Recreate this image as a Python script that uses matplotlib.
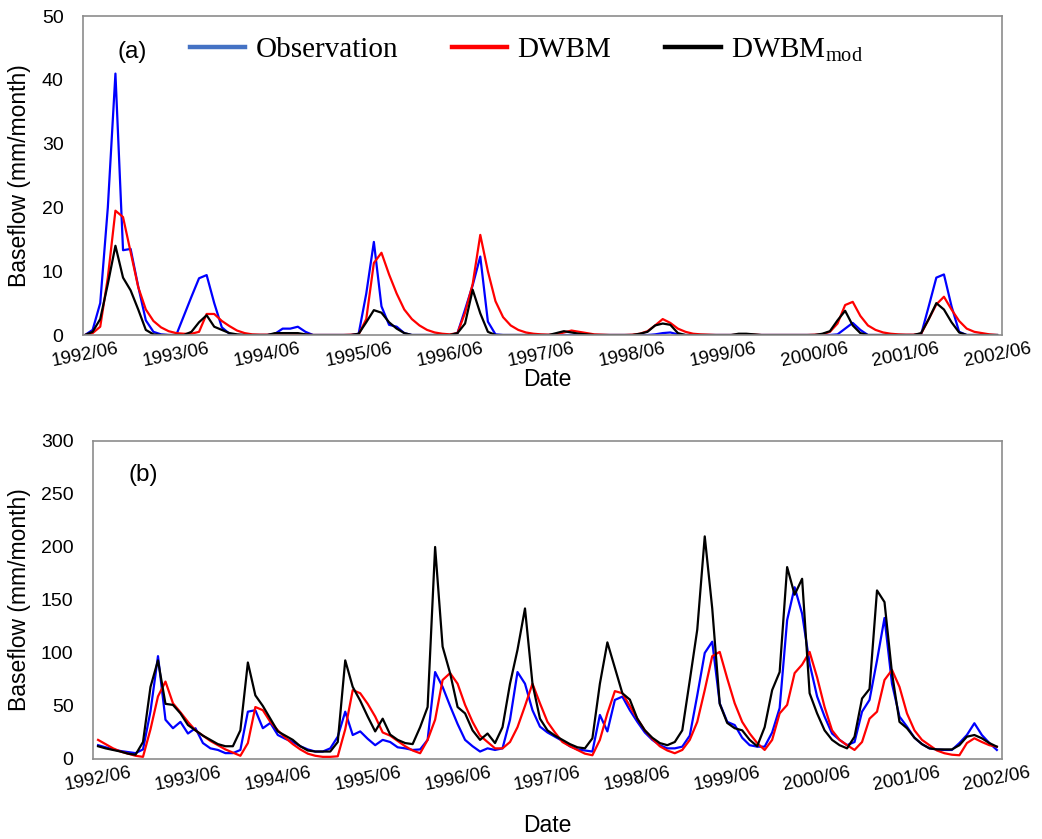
import numpy as np
import matplotlib
matplotlib.use("Agg")
import matplotlib.pyplot as plt
from matplotlib.lines import Line2D

plt.rcParams['font.family'] = ['Liberation Sans', 'DejaVu Sans']
plt.rcParams['mathtext.fontset'] = 'custom'
plt.rcParams['mathtext.rm'] = 'Liberation Serif'

# monthly series, 1992/06 .. 2002/06 (121 months), one row per year
tick_labels = ['1992/06', '1993/06', '1994/06', '1995/06', '1996/06', '1997/06',
               '1998/06', '1999/06', '2000/06', '2001/06', '2002/06']

obs_a = [0, 0.8, 5, 20, 41, 13.3, 13.5, 7.6, 2.3, 0.5, 0.1, 0,
         0, 3, 6, 8.9, 9.4, 5, 1.2, 0.2, 0, 0, 0, 0,
         0, 0.2, 1.0, 1.0, 1.3, 0.5, 0, 0, 0, 0, 0, 0,
         0.2, 6.5, 14.6, 4.5, 1.6, 1.3, 0.3, 0, 0, 0, 0, 0,
         0, 0.3, 4, 7.8, 12.3, 2.1, 0.1, 0, 0, 0, 0, 0,
         0, 0, 0, 0, 0, 0, 0, 0, 0, 0, 0, 0,
         0, 0, 0, 0.1, 0.3, 0.4, 0.1, 0, 0, 0, 0, 0,
         0, 0, 0, 0, 0, 0, 0, 0, 0, 0, 0, 0,
         0, 0, 0, 0.1, 1.0, 1.9, 0.8, 0, 0, 0, 0, 0,
         0, 0, 0.1, 4.5, 9.0, 9.5, 4.5, 0.5, 0, 0, 0, 0,
         0]

dwbm_a = [0, 0.3, 1.3, 9, 19.5, 18.5, 13, 7.5, 4, 2.2, 1.2, 0.6,
          0.3, 0.2, 0.2, 0.5, 3.3, 3.3, 2.2, 1.4, 0.7, 0.3, 0.1, 0.05,
          0.05, 0.1, 0.1, 0.1, 0.1, 0.05, 0, 0, 0, 0, 0, 0.05,
          0.1, 2.5, 11.3, 12.9, 9.5, 6.5, 4.0, 2.5, 1.5, 0.8, 0.4, 0.2,
          0.1, 0.3, 3.5, 8, 15.7, 10, 5.3, 2.8, 1.5, 0.8, 0.4, 0.2,
          0.1, 0.05, 0.1, 0.4, 0.7, 0.5, 0.3, 0.1, 0.05, 0, 0, 0,
          0.05, 0.2, 0.6, 1.5, 2.5, 1.9, 1.0, 0.5, 0.2, 0.1, 0.05, 0,
          0, 0, 0.05, 0.1, 0.05, 0, 0, 0, 0, 0, 0, 0,
          0.05, 0.1, 0.5, 1.8, 4.7, 5.2, 3.0, 1.5, 0.8, 0.4, 0.2, 0.1,
          0.05, 0.05, 0.2, 2.5, 4.8, 6.0, 4.0, 2.2, 1.0, 0.5, 0.3, 0.1,
          0]

mod_a = [0, 0.5, 2.5, 8, 14, 9, 7, 4, 0.8, 0.1, 0, 0,
         0, 0, 0.5, 2, 3.1, 1.3, 0.8, 0.3, 0.1, 0, 0, 0,
         0, 0.3, 0.3, 0.3, 0.3, 0.1, 0, 0, 0, 0, 0, 0,
         0.2, 2.0, 3.9, 3.5, 2.0, 1.0, 0.3, 0, 0, 0, 0, 0,
         0, 0.3, 1.8, 7.1, 3.4, 0.5, 0, 0, 0, 0, 0, 0,
         0, 0, 0.3, 0.6, 0.4, 0.2, 0.1, 0, 0, 0, 0, 0,
         0, 0.2, 0.5, 1.5, 1.8, 1.6, 0.3, 0, 0, 0, 0, 0,
         0, 0, 0.2, 0.2, 0.1, 0, 0, 0, 0, 0, 0, 0,
         0, 0.2, 0.6, 2.3, 3.8, 1.5, 0.3, 0, 0, 0, 0, 0,
         0, 0, 0.3, 2.5, 5.0, 4.0, 2.0, 0.4, 0, 0, 0, 0,
         0]

obs_b = [13, 11, 9, 7.5, 6.5, 5.5, 9, 45, 97, 37, 29, 35,
         24, 29, 15, 10, 8.5, 5.5, 5.5, 8.5, 44.6, 46, 29, 34,
         22.6, 19, 16, 12, 9, 7, 7, 10, 21, 44.6, 22.6, 26,
         19, 13, 18, 16, 11, 10, 8.5, 9, 18, 82, 68, 50,
         33, 18, 12, 7, 10, 8.5, 10, 37, 82, 71, 46, 30.5,
         25, 21, 17, 12, 9, 8, 7, 41.5, 26, 55.7, 58.8, 46,
         35, 25, 18, 13, 10, 10, 11.6, 22, 60, 100, 110.6, 52.5,
         35, 32, 20, 13, 11.6, 11.6, 25, 48, 131, 162, 137, 90,
         59, 40, 24, 18, 13, 16, 44.6, 55.7, 93, 133, 71, 40,
         30.5, 20, 14, 10, 9, 8.5, 8.5, 15, 22.6, 33.7, 22.6, 15,
         8.5]

dwbm_b = [18, 14, 10, 7, 5, 3, 2, 28, 59, 73, 52.5, 44,
          35, 27, 22, 17, 13, 9, 6, 3, 15, 49, 46, 35,
          27, 20, 14, 9, 5, 3, 2, 2, 2.5, 28, 65, 62,
          52, 40, 25, 22, 17, 12, 8, 5.4, 18, 37, 74.5, 81,
          71, 51, 35, 22, 16, 10, 10, 16, 30, 50, 71, 52.5,
          35, 25, 16, 12, 8.5, 5, 3.5, 18, 43, 64, 62, 50,
          38, 27, 19, 12, 8, 5.4, 8.5, 18, 35, 65, 97, 101,
          76, 52.5, 35, 24, 15, 8.5, 18, 43, 51, 81, 89, 101,
          77, 49, 27, 18, 13, 8.5, 16, 38, 44.6, 74.5, 84, 68,
          43, 27, 18, 13, 8, 5.4, 4, 3.5, 15, 19.5, 16, 13,
          11.6]

mod_b = [12, 10, 8.5, 7, 5, 4, 16, 68, 93, 52, 51, 43,
         32, 27, 22, 18, 14, 12, 12, 27, 91, 60, 50, 38,
         26, 22, 18, 12, 8, 7, 7, 7, 16, 93, 68, 55,
         40, 26, 38, 23, 18, 15, 14, 30, 49, 200, 106, 81,
         49, 43, 27, 18, 24, 15, 30, 71, 103, 142, 71, 38,
         27, 22, 18, 14, 11, 10, 19.5, 71, 110, 86, 62, 56,
         38, 27, 20, 15, 13, 16, 27, 74, 122, 210, 142, 52,
         34, 29, 27, 18, 12, 30, 65, 82, 181, 155, 170, 62,
         43, 27, 18, 13, 10, 21, 57, 66, 159, 148, 81, 35,
         29, 20, 14, 10, 9, 9, 9, 13, 21, 22.6, 19.5, 15,
         11.6]

months = np.arange(len(obs_a))

fig = plt.figure(figsize=(10.42, 8.39), dpi=100)
ax_a = fig.add_axes([0.0797, 0.6007, 0.882, 0.380])
ax_b = fig.add_axes([0.0893, 0.0954, 0.8724, 0.379])


def style(ax, ymax, ystep, xlim):
    ax.set_xlim(*xlim)
    ax.set_ylim(0, ymax)
    ax.set_yticks(np.arange(0, ymax + 1, ystep))
    ax.set_xticks(np.arange(0, 121, 12))
    ax.set_xticklabels(tick_labels, rotation=11, ha='center', fontsize=13.5)
    ax.tick_params(axis='x', length=0, pad=4)
    ax.tick_params(axis='y', length=0, pad=14, labelsize=14)
    for s in ax.spines.values():
        s.set_color('#8c8c8c')
        s.set_linewidth(1.2)
    ax.set_ylabel('Baseflow (mm/month)', fontsize=16.5)
    ax.set_xlabel('Date', fontsize=16.5)


lw = 1.6
ax_a.plot(months, obs_a, color='#0000ff', lw=lw)
ax_a.plot(months, dwbm_a, color='#ff0000', lw=lw)
ax_a.plot(months, mod_a, color='black', lw=lw)
style(ax_a, 50, 10, (-0.26, 120.65))
ax_a.yaxis.set_label_coords(-0.057, 0.5)
ax_a.xaxis.set_label_coords(0.505, -0.103)
ax_a.text(0.037, 0.887, '(a)', transform=ax_a.transAxes, fontsize=17.5, va='center')

handles = [Line2D([], [], color='#4472c4', lw=3.2),
           Line2D([], [], color='#ff0000', lw=3.2),
           Line2D([], [], color='black', lw=3.2)]
ax_a.legend(handles, ['Observation', 'DWBM', r'DWBM$_{\mathrm{mod}}$'],
            ncol=3, loc='center left', bbox_to_anchor=(0.116, 0.893),
            frameon=False, prop={'family': 'Liberation Serif', 'size': 21},
            handlelength=1.9, handletextpad=0.35, columnspacing=1.85,
            borderaxespad=0, borderpad=0)

ax_b.plot(months, obs_b, color='#0000ff', lw=lw)
ax_b.plot(months, dwbm_b, color='#ff0000', lw=lw)
ax_b.plot(months, mod_b, color='black', lw=lw)
style(ax_b, 300, 50, (-0.67, 120.7))
ax_b.yaxis.set_label_coords(-0.068, 0.5)
ax_b.xaxis.set_label_coords(0.5, -0.172)
ax_b.text(0.0385, 0.893, '(b)', transform=ax_b.transAxes, fontsize=17.5, va='center')

fig.savefig('out.png', dpi=100)
